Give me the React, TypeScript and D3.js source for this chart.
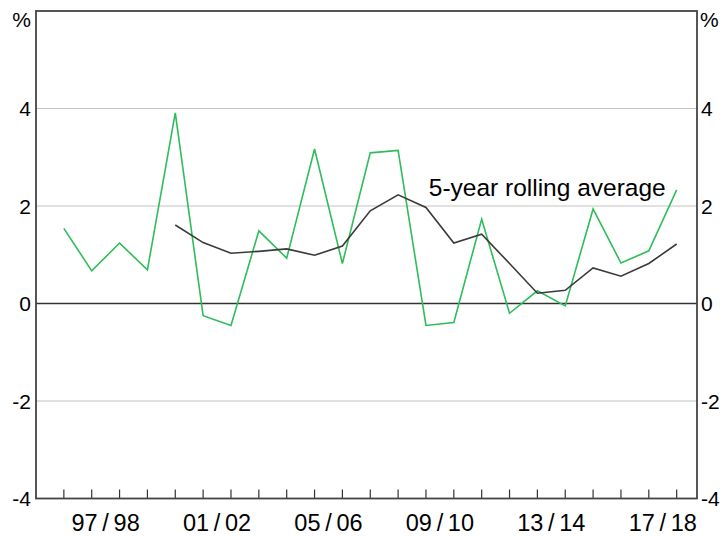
import React from "react";
import * as d3 from "d3";

// annual growth, financial years 95/96 .. 17/18 (points at year end)
const growth = [
  1.54, 0.67, 1.24, 0.69, 3.91, -0.25, -0.45, 1.49, 0.93, 3.17, 0.82, 3.09,
  3.14, -0.45, -0.39, 1.73, -0.2, 0.26, -0.05, 1.94, 0.83, 1.08, 2.33,
];
// 5-year rolling average, starts at the 5th year
const rollingStart = 4;
const rolling = [
  1.61, 1.25, 1.03, 1.07, 1.12, 0.99, 1.18, 1.9, 2.23, 1.97, 1.24, 1.42, 0.82,
  0.21, 0.27, 0.73, 0.56, 0.82, 1.22,
];
const yearLabels = ["97\u2009/\u200998", "01\u2009/\u200902", "05\u2009/\u200906", "09\u2009/\u200910", "13\u2009/\u200914", "17\u2009/\u200918"];
const labelPos = [1.5, 5.5, 9.5, 13.5, 17.5, 21.5];
const yTicks = [-4, -2, 0, 2, 4];
const gridTicks = [-2, 2, 4];

const W = 724;
const H = 536;
const margin = { top: 11, right: 27, bottom: 37.5, left: 36 };
const FONT = "'Liberation Sans', Arial, sans-serif";

export default function App() {
  const x = d3
    .scaleLinear()
    .domain([-1, 22.73])
    .range([margin.left, W - margin.right]);
  const y = d3
    .scaleLinear()
    .domain([-4, 6])
    .range([H - margin.bottom, margin.top]);

  const line = d3
    .line<number>()
    .x((d, i) => x(i))
    .y((d) => y(d));
  const rollLine = d3
    .line<number>()
    .x((d, i) => x(i + rollingStart))
    .y((d) => y(d));

  const left = margin.left;
  const right = W - margin.right;
  const top = margin.top;
  const bottom = H - margin.bottom;

  return (
    <svg
      width={W}
      height={H}
      style={{ position: "absolute", left: 0, top: 0, background: "#fff" }}
      fontFamily={FONT}
    >
      {gridTicks.map((t) => (
        <line key={t} x1={left} x2={right} y1={y(t)} y2={y(t)} stroke="#c4c4c4" strokeWidth={1.2} />
      ))}
      <line x1={left} x2={right} y1={y(0)} y2={y(0)} stroke="#333" strokeWidth={1.5} />

      {growth.map((d, i) => (
        <line key={i} x1={x(i)} x2={x(i)} y1={bottom} y2={bottom - 9} stroke="#333" strokeWidth={1.2} />
      ))}

      <path d={line(growth) ?? ""} fill="none" stroke="#2ebd5a" strokeWidth={1.6} />
      <path d={rollLine(rolling) ?? ""} fill="none" stroke="#3a3a3a" strokeWidth={1.6} />

      <rect x={left} y={top} width={right - left} height={bottom - top} fill="none" stroke="#444" strokeWidth={1.8} />

      {yTicks.map((t) => (
        <g key={t} fontSize={21} fill="#000">
          <text x={left - 5} y={y(t)} dy="0.36em" textAnchor="end">{t}</text>
          <text x={right + 4} y={y(t)} dy="0.36em" textAnchor="start">{t}</text>
        </g>
      ))}
      <text x={left - 5} y={y(6) + 16} textAnchor="end" fontSize={21}>%</text>
      <text x={right + 3} y={y(6) + 16} textAnchor="start" fontSize={21}>%</text>

      {yearLabels.map((l, i) => (
        <text key={l} x={x(labelPos[i])} y={bottom + 32} textAnchor="middle" fontSize={23.5}>
          {l}
        </text>
      ))}

      <text x={x(13.1)} y={y(2.2)} fontSize={24.5}>5-year rolling average</text>
    </svg>
  );
}
